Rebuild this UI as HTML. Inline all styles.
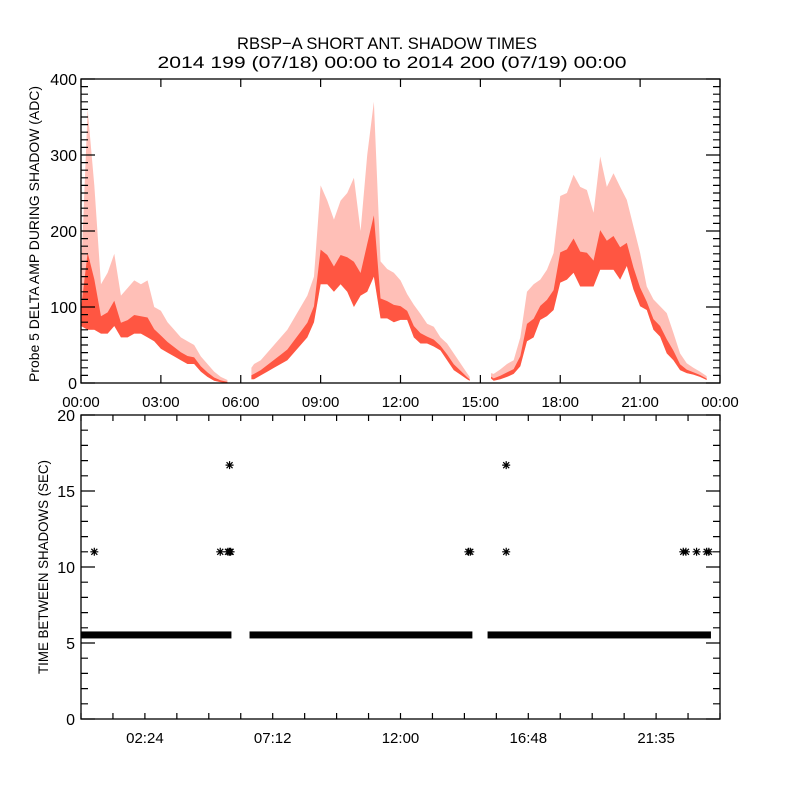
<!DOCTYPE html>
<html><head><meta charset="utf-8"><style>
html,body{margin:0;padding:0;background:#fff;}
svg{display:block;font-family:"Liberation Sans",sans-serif;}
</style></head><body>
<svg id="chart" width="800" height="800" viewBox="0 0 800 800" xmlns="http://www.w3.org/2000/svg">
<rect width="800" height="800" fill="#fff"/>
<text x="387" y="49" font-size="17" text-anchor="middle" textLength="300" lengthAdjust="spacingAndGlyphs">RBSP−A SHORT ANT. SHADOW TIMES</text>
<text x="392" y="68" font-size="17" text-anchor="middle" textLength="469" lengthAdjust="spacingAndGlyphs">2014 199 (07/18) 00:00 to 2014 200 (07/19) 00:00</text>
<g id="topPanel"></g>
<g id="botPanel"></g>
<text transform="translate(39,234) rotate(-90)" font-size="14" text-anchor="middle" textLength="296" lengthAdjust="spacingAndGlyphs">Probe 5 DELTA AMP DURING SHADOW (ADC)</text>
<text transform="translate(48,567) rotate(-90)" font-size="14" text-anchor="middle" textLength="214" lengthAdjust="spacingAndGlyphs">TIME BETWEEN SHADOWS (SEC)</text>
</svg>
<script>
// ---- top panel data (hours, ADC envelope) ----
const ampTimes = [0,0.25,0.5,0.75,1,1.25,1.5,1.75,2,2.25,2.5,2.75,3,3.25,3.5,3.75,4,4.25,4.5,4.75,5,5.25,5.5,null,
 6.4,6.5,6.75,7,7.25,7.5,7.75,8,8.25,8.5,8.75,9,9.25,9.5,9.75,10,10.25,10.5,10.75,11,11.25,11.5,11.75,12,12.25,12.5,12.75,13,13.25,13.5,13.75,14,14.25,14.5,14.6,null,
 15.4,15.5,15.75,16,16.25,16.5,16.75,17,17.25,17.5,17.75,18,18.25,18.5,18.75,19,19.25,19.5,19.75,20,20.25,20.5,20.75,21,21.25,21.5,21.75,22,22.25,22.5,22.75,23,23.25,23.5];
const ampLow = [75,70,70,65,65,75,60,60,65,65,60,55,45,40,35,30,25,25,15,8,3,1,0,null,
 5,5,10,15,20,25,30,40,50,60,80,130,130,120,130,120,100,115,120,140,85,85,80,83,83,60,52,52,48,43,30,17,11,5,3,null,
 6,3,5,8,12,22,55,60,83,88,96,132,136,145,127,127,127,149,149,149,136,154,123,101,96,70,61,39,30,17,13,11,8,4];
const ampHigh = [140,360,260,130,145,170,115,125,135,130,135,100,95,80,70,60,55,50,35,25,15,8,4,null,
 20,25,30,40,50,60,70,85,100,115,140,260,240,215,240,250,270,200,300,370,160,150,145,135,117,103,91,78,74,60,52,39,26,13,8,null,
 13,12,18,25,30,60,120,130,136,149,171,246,250,274,258,254,224,298,258,276,258,241,206,171,127,110,101,92,66,39,26,20,15,9];
const ampTicks = [0,100,200,300,400];
const topTimeTicks = [0,3,6,9,12,15,18,21,24];
const topTimeLabels = ["00:00","03:00","06:00","09:00","12:00","15:00","18:00","21:00","00:00"];
// ---- bottom panel data ----
const bandStart = [0,6.33,15.27];
const bandEnd = [5.65,14.7,23.66];
const bandValue = [5.53,5.53,5.53];
const outTimes = [0.5,5.23,5.52,5.58,5.62,5.58,14.55,14.62,15.97,15.97,22.62,22.72,23.12,23.5,23.58];
const outValues = [11,11,11,11,11,16.7,11,11,16.7,11,11,11,11,11,11];
const secTicks = [0,5,10,15,20];
const botTimeTicks = [2.4,7.2,12,16.8,21.6];
const botTimeLabels = ["02:24","07:12","12:00","16:48","21:35"];

const NS="http://www.w3.org/2000/svg";
function mk(tag,attrs,parent){const e=document.createElementNS(NS,tag);for(const k in attrs)e.setAttribute(k,attrs[k]);parent.appendChild(e);return e;}
const L=81,R=720;
const xT=t=>L+(R-L)*t/24;
const T0=79,B0=383; const yA=v=>B0-(B0-T0)*v/400;
const T1=415,B1=719; const yS=v=>B1-(B1-T1)*v/20;
const topG=document.getElementById('topPanel'), botG=document.getElementById('botPanel');

let seg=[];
function flush(){
  if(seg.length<2){seg=[];return;}
  let d="M"+seg.map(i=>xT(ampTimes[i])+","+yA(ampHigh[i])).join("L");
  d+="L"+seg.slice().reverse().map(i=>xT(ampTimes[i])+","+yA(ampLow[i])).join("L")+"Z";
  const p=mk('path',{d:d,fill:'#ff2a10','fill-opacity':'0.3'},topG);
  
  
  let c="M"+seg.map(i=>xT(ampTimes[i])+","+yA(ampLow[i]+(ampHigh[i]-ampLow[i])*0.35)).join("L");
  c+="L"+seg.slice().reverse().map(i=>xT(ampTimes[i])+","+yA(ampLow[i])).join("L")+"Z";
  const q=mk('path',{d:c,fill:'#ff2a10','fill-opacity':'0.7'},topG);
  
  
  seg=[];
}
ampTimes.forEach((t,i)=>{if(t===null)flush();else seg.push(i);});
flush();

const f1=mk('rect',{x:L,y:T0,width:R-L,height:B0-T0,fill:'none',stroke:'#000','stroke-width':'1.3'},topG);


let d="";
for(let v=0;v<=400;v+=10){const len=(v%100===0)?14:7;const y=yA(v);d+=`M${L},${y}h${len}M${R},${y}h${-len}`;}
topTimeTicks.forEach(t=>{d+=`M${xT(t)},${B0}v-8M${xT(t)},${T0}v8`;});
mk('path',{d:d,stroke:'#000','stroke-width':'1.2',fill:'none'},topG);
ampTicks.forEach(v=>{const e=mk('text',{x:L-4,y:yA(v)+6,'font-size':'16','text-anchor':'end'},topG);e.textContent=v;
  
  });
topTimeTicks.forEach((t,i)=>{const e=mk('text',{x:xT(t),y:407,'font-size':'15','text-anchor':'middle'},topG);e.textContent=topTimeLabels[i];
  
  });

bandStart.forEach((s,i)=>{const r=mk('rect',{x:xT(s),y:yS(bandValue[i])-3.5,width:xT(bandEnd[i])-xT(s),height:7,fill:'#000'},botG);
  
  });
outTimes.forEach((t,i)=>{const x=xT(t),y=yS(outValues[i]);
  const e=mk('path',{d:`M${x-4},${y}h8M${x},${y-4}v8M${x-3},${y-3}l6,6M${x-3},${y+3}l6,-6`,stroke:'#000','stroke-width':'1.2'},botG);
  
  });
const f2=mk('rect',{x:L,y:T1,width:R-L,height:B1-T1,fill:'none',stroke:'#000','stroke-width':'1.3'},botG);


let d2="";
for(let v=0;v<=20;v+=1){const len=(v%5===0)?14:7;const y=yS(v);d2+=`M${L},${y}h${len}M${R},${y}h${-len}`;}
for(let t=0;t<=24.01;t+=1.2){d2+=`M${xT(t)},${B1}v-6M${xT(t)},${T1}v6`;}
mk('path',{d:d2,stroke:'#000','stroke-width':'1.2',fill:'none'},botG);
secTicks.forEach(v=>{const e=mk('text',{x:L-6,y:yS(v)+6,'font-size':'16','text-anchor':'end'},botG);e.textContent=v;
  
  });
botTimeTicks.forEach((t,i)=>{const e=mk('text',{x:xT(t),y:743,'font-size':'15','text-anchor':'middle'},botG);e.textContent=botTimeLabels[i];
  
  });
</script>
</body></html>
